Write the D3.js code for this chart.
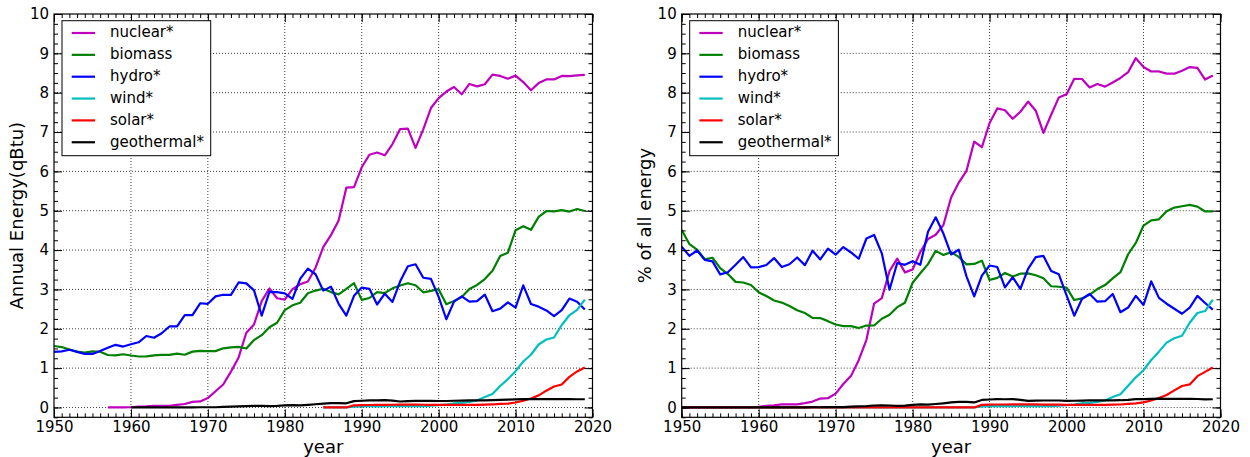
<!DOCTYPE html>
<html>
<head>
<meta charset="utf-8">
<script src="https://cdn.jsdelivr.net/npm/d3@7"></script>
<style>
  body { margin: 0; background: #fff; }
  svg { display: block; }
  text { font-family: "DejaVu Sans", sans-serif; fill: #000; }
</style>
</head>
<body>
<svg id="chart" width="1250" height="457"></svg>
<script>
// ---- data -------------------------------------------------------------
const years = [
  1950,1951,1952,1953,1954,1955,1956,1957,1958,1959,
  1960,1961,1962,1963,1964,1965,1966,1967,1968,1969,
  1970,1971,1972,1973,1974,1975,1976,1977,1978,1979,
  1980,1981,1982,1983,1984,1985,1986,1987,1988,1989,
  1990,1991,1992,1993,1994,1995,1996,1997,1998,1999,
  2000,2001,2002,2003,2004,2005,2006,2007,2008,2009,
  2010,2011,2012,2013,2014,2015,2016,2017,2018,2019
];

const seriesNames = ["nuclear*", "biomass", "hydro*", "wind*", "solar*", "geothermal*"];
const seriesColors = ["#bf00bf", "#008000", "#0000ff", "#00bfbf", "#ff0000", "#000000"];

// annual energy, quadrillion Btu (first year of each record noted alongside)
const nuclearStart = 1957;
const nuclearQ = [
  0.000,0.002,0.002,0.006,0.020,0.026,0.038,0.040,0.043,0.064,
  0.088,0.142,0.154,0.239,0.413,0.584,0.910,1.272,1.900,2.111,
  2.702,3.024,2.776,2.739,3.008,3.131,3.203,3.553,4.076,4.380,
  4.754,5.587,5.602,6.104,6.422,6.479,6.410,6.694,7.075,7.087,
  6.597,7.068,7.610,7.862,8.029,8.145,7.959,8.222,8.161,8.215,
  8.459,8.426,8.355,8.434,8.269,8.062,8.244,8.338,8.337,8.427,
  8.419,8.438,8.452
];
const biomassStart = 1950;
const biomassQ = [
  1.562,1.535,1.474,1.419,1.394,1.424,1.416,1.334,1.323,1.353,
  1.320,1.295,1.300,1.323,1.337,1.335,1.369,1.340,1.419,1.440,
  1.431,1.432,1.503,1.529,1.540,1.499,1.713,1.838,2.038,2.152,
  2.475,2.596,2.663,2.904,2.971,3.016,2.932,2.875,3.016,3.160,
  2.735,2.782,2.932,2.908,3.028,3.101,3.157,3.105,2.927,2.963,
  3.006,2.624,2.705,2.805,3.011,3.114,3.262,3.472,3.851,3.934,
  4.506,4.607,4.514,4.843,4.993,4.983,5.014,4.979,5.044,4.994
];
const hydroStart = 1950;
const hydroQ = [
  1.415,1.424,1.466,1.413,1.360,1.360,1.435,1.516,1.592,1.548,
  1.608,1.656,1.816,1.771,1.886,2.059,2.062,2.347,2.349,2.648,
  2.634,2.824,2.864,2.861,3.177,3.155,2.976,2.333,2.937,2.931,
  2.900,2.758,3.266,3.527,3.386,2.970,3.071,2.635,2.334,2.837,
  3.046,3.016,2.617,2.892,2.683,3.205,3.590,3.640,3.297,3.268,
  2.811,2.242,2.689,2.825,2.690,2.703,2.869,2.446,2.511,2.669,
  2.539,3.103,2.629,2.562,2.467,2.321,2.472,2.767,2.688,2.492
];
const windStart = 1985;
const windQ = [
  0.000,0.000,0.000,0.000,0.022,
  0.029,0.031,0.030,0.031,0.036,0.033,0.033,0.034,0.031,0.046,
  0.057,0.070,0.105,0.115,0.142,0.178,0.264,0.341,0.546,0.721,
  0.923,1.168,1.340,1.601,1.728,1.777,2.096,2.343,2.482,2.742
];
const solarStart = 1985;
const solarQ = [
  0.000,0.000,0.000,0.000,0.055,
  0.060,0.063,0.064,0.066,0.069,0.070,0.071,0.070,0.069,0.068,
  0.066,0.065,0.064,0.064,0.065,0.066,0.072,0.076,0.089,0.098,
  0.126,0.171,0.227,0.307,0.427,0.532,0.585,0.777,0.915,1.017
];
const geoStart = 1960;
const geoQ = [
  0.001,0.001,0.001,0.002,0.002,0.002,0.002,0.004,0.004,0.005,
  0.006,0.006,0.016,0.022,0.027,0.036,0.040,0.039,0.032,0.040,
  0.053,0.059,0.051,0.064,0.081,0.097,0.108,0.112,0.106,0.162,
  0.171,0.178,0.179,0.186,0.173,0.152,0.163,0.167,0.168,0.171,
  0.164,0.164,0.171,0.175,0.178,0.181,0.181,0.186,0.192,0.200,
  0.208,0.212,0.212,0.214,0.214,0.212,0.210,0.210,0.209,0.209
];

// share of all primary energy, percent (every year 1950-2019)
const nuclearPct = [
  0,0,0,0,0,0,0,0.000,0.005,0.005,
  0.013,0.044,0.054,0.077,0.077,0.080,0.112,0.149,0.227,0.235,
  0.352,0.596,0.803,1.202,1.719,2.640,2.778,3.466,3.782,3.433,
  3.508,3.952,4.283,4.389,4.637,5.336,5.716,6.014,6.756,6.614,
  7.230,7.600,7.553,7.337,7.515,7.774,7.543,6.979,7.440,7.880,
  7.963,8.352,8.348,8.132,8.220,8.154,8.261,8.374,8.520,8.878,
  8.654,8.539,8.540,8.486,8.483,8.557,8.651,8.629,8.334,8.438
];
const biomassPct = [
  4.512,4.152,4.011,3.768,3.805,3.541,3.392,3.192,3.176,3.112,
  2.927,2.831,2.718,2.665,2.580,2.471,2.401,2.275,2.273,2.194,
  2.109,2.067,2.067,2.020,2.082,2.083,2.255,2.358,2.549,2.661,
  3.170,3.411,3.643,3.980,3.877,3.948,3.826,3.637,3.647,3.731,
  3.239,3.292,3.418,3.328,3.400,3.407,3.360,3.285,3.081,3.068,
  3.045,2.730,2.772,2.866,3.010,3.111,3.280,3.437,3.894,4.180,
  4.623,4.757,4.782,4.985,5.080,5.114,5.147,5.103,4.982,4.986
];
const hydroPct = [
  4.087,3.852,3.989,3.752,3.712,3.382,3.437,3.628,3.822,3.561,
  3.566,3.620,3.797,3.568,3.640,3.812,3.617,3.984,3.763,4.035,
  3.883,4.076,3.939,3.780,4.294,4.384,3.917,2.993,3.673,3.625,
  3.715,3.624,4.468,4.833,4.419,3.888,4.008,3.333,2.822,3.349,
  3.608,3.569,3.051,3.310,3.012,3.522,3.821,3.851,3.471,3.384,
  2.847,2.332,2.756,2.886,2.689,2.701,2.885,2.421,2.539,2.836,
  2.605,3.204,2.785,2.637,2.510,2.382,2.538,2.836,2.655,2.488
];
const windPct = [
  0,0,0,0,0,0,0,0,0,0,
  0,0,0,0,0,0,0,0,0,0,
  0,0,0,0,0,0,0,0,0,0,
  0,0,0,0,0,0,0,0,0,0.026,
  0.034,0.037,0.035,0.035,0.040,0.036,0.035,0.036,0.033,0.048,
  0.058,0.073,0.108,0.118,0.142,0.178,0.265,0.338,0.552,0.766,
  0.947,1.206,1.419,1.648,1.758,1.824,2.152,2.401,2.451,2.738
];
const solarPct = [
  0,0,0,0,0,0,0,0,0,0,
  0,0,0,0,0,0,0,0,0,0,
  0,0,0,0,0,0,0,0,0,0,
  0,0,0,0,0,0,0,0,0,0.065,
  0.071,0.075,0.075,0.076,0.077,0.077,0.076,0.074,0.073,0.070,
  0.067,0.068,0.066,0.065,0.065,0.066,0.072,0.075,0.090,0.104,
  0.129,0.177,0.240,0.316,0.434,0.546,0.585,0.796,0.904,1.015
];
const geoPct = [
  0,0,0,0,0,0,0,0,0,0,
  0.002,0.002,0.002,0.004,0.004,0.004,0.004,0.007,0.006,0.008,
  0.009,0.009,0.022,0.029,0.036,0.050,0.053,0.050,0.040,0.049,
  0.068,0.078,0.070,0.088,0.106,0.127,0.141,0.142,0.128,0.191,
  0.203,0.211,0.209,0.213,0.194,0.167,0.173,0.177,0.177,0.177,
  0.166,0.171,0.175,0.179,0.178,0.181,0.182,0.184,0.194,0.213,
  0.213,0.219,0.225,0.220,0.218,0.218,0.216,0.215,0.206,0.209
];

const xTickValues = [1950, 1960, 1970, 1980, 1990, 2000, 2010, 2020];
const yTickValues = [0, 1, 2, 3, 4, 5, 6, 7, 8, 9, 10];

// ---- layout -----------------------------------------------------------
const svg = d3.select("#chart");
const TOP = 14, BOTTOM = 417.3;
const MAJOR = 8, MINOR = 4;

const panels = [
  {
    left: 54, right: 592.5, yLabel: "Annual Energy(qBtu)", yLabelX: 23,
    series: [
      [nuclearStart, nuclearQ], [biomassStart, biomassQ], [hydroStart, hydroQ],
      [windStart, windQ], [solarStart, solarQ], [geoStart, geoQ]
    ]
  },
  {
    left: 681.7, right: 1220.5, yLabel: "% of all energy", yLabelX: 651,
    series: [
      [1950, nuclearPct], [1950, biomassPct], [1950, hydroPct],
      [1950, windPct], [1950, solarPct], [1950, geoPct]
    ]
  }
];

panels.forEach((p, pi) => {
  const x = d3.scaleLinear().domain([1950, 2020]).range([p.left, p.right]);
  const y = d3.scaleLinear().domain([-0.25, 10]).range([BOTTOM, TOP]);
  const g = svg.append("g");
  const w = p.right - p.left, h = BOTTOM - TOP;

  // dotted grid at major ticks
  const grid = g.append("g").attr("stroke", "#000").attr("stroke-width", 1)
    .attr("stroke-dasharray", "1,2").attr("opacity", 0.75);
  xTickValues.slice(1, -1).forEach(v => {
    grid.append("line").attr("x1", x(v)).attr("x2", x(v)).attr("y1", TOP).attr("y2", BOTTOM);
  });
  yTickValues.slice(0, -1).forEach(v => {
    grid.append("line").attr("x1", p.left).attr("x2", p.right).attr("y1", y(v)).attr("y2", y(v));
  });

  // series lines, clipped to the axes box
  const clipId = "clip" + pi;
  svg.append("clipPath").attr("id", clipId).append("rect")
    .attr("x", p.left).attr("y", TOP).attr("width", w).attr("height", h);
  const lineGen = d3.line().x(d => x(d[0])).y(d => y(d[1]));
  const lines = g.append("g").attr("clip-path", `url(#${clipId})`);
  p.series.forEach(([start, vals], i) => {
    const off = years.indexOf(start);
    const pts = vals.map((v, k) => [years[off + k], v]);
    lines.append("path").datum(pts)
      .attr("fill", "none").attr("stroke", seriesColors[i])
      .attr("stroke-width", 2.2).attr("stroke-linejoin", "round")
      .attr("d", lineGen);
  });

  // axes with inward ticks
  const xMinor = d3.range(1950, 2021, 1);
  const yMinor = d3.range(-0.25, 10.01, 0.25);
  const fmt = d3.format("d");

  const bottomMinor = d3.axisBottom(x).tickValues(xMinor).tickSize(-MINOR).tickFormat("");
  const topMinor = d3.axisTop(x).tickValues(xMinor).tickSize(-MINOR).tickFormat("");
  const bottomMajor = d3.axisBottom(x).tickValues(xTickValues).tickSize(-MAJOR).tickPadding(4.5).tickFormat(fmt);
  const topMajor = d3.axisTop(x).tickValues(xTickValues).tickSize(-MAJOR).tickFormat("");
  const leftMinor = d3.axisLeft(y).tickValues(yMinor).tickSize(-MINOR).tickFormat("");
  const rightMinor = d3.axisRight(y).tickValues(yMinor).tickSize(-MINOR).tickFormat("");
  const leftMajor = d3.axisLeft(y).tickValues(yTickValues).tickSize(-MAJOR).tickPadding(5).tickFormat(fmt);
  const rightMajor = d3.axisRight(y).tickValues(yTickValues).tickSize(-MAJOR).tickFormat("");

  const place = (axis, tx, ty) => {
    const a = g.append("g").attr("transform", `translate(${tx},${ty})`).call(axis);
    a.select(".domain").remove();
    a.selectAll("line").attr("stroke", "#000").attr("stroke-width", 1);
    a.selectAll("text").attr("font-family", "DejaVu Sans").attr("font-size", 15).attr("fill", "#000");
    return a;
  };
  place(bottomMinor, 0, BOTTOM);
  place(topMinor, 0, TOP);
  place(bottomMajor, 0, BOTTOM);
  place(topMajor, 0, TOP);
  place(leftMinor, p.left, 0);
  place(rightMinor, p.right, 0);
  place(leftMajor, p.left, 0);
  place(rightMajor, p.right, 0);

  // frame
  g.append("rect").attr("x", p.left).attr("y", TOP).attr("width", w).attr("height", h)
    .attr("fill", "none").attr("stroke", "#000").attr("stroke-width", 1.2);

  // axis titles
  g.append("text").attr("x", (p.left + p.right) / 2).attr("y", 453)
    .attr("text-anchor", "middle").attr("font-size", 18).text("year");
  g.append("text")
    .attr("transform", `translate(${p.yLabelX},${(TOP + BOTTOM) / 2}) rotate(-90)`)
    .attr("text-anchor", "middle").attr("font-size", 18).text(p.yLabel);

  // legend
  const lg = g.append("g").attr("transform", `translate(${p.left + 8},${TOP + 6.7})`);
  lg.append("rect").attr("width", 148.7).attr("height", 135)
    .attr("fill", "#fff").attr("stroke", "#000").attr("stroke-width", 1);
  seriesNames.forEach((name, i) => {
    const cy = 12.3 + i * 21.85;
    lg.append("line").attr("x1", 9.7).attr("x2", 33).attr("y1", cy).attr("y2", cy)
      .attr("stroke", seriesColors[i]).attr("stroke-width", 2.2);
    lg.append("text").attr("x", 48).attr("y", cy + 4.5).attr("font-size", 15).text(name);
  });
});
</script>
</body>
</html>
